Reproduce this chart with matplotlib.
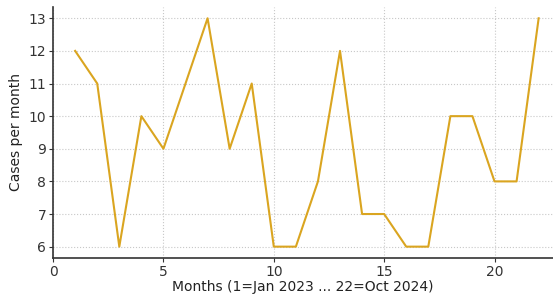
import matplotlib
matplotlib.use('Agg')
import matplotlib.pyplot as plt

# Monthly case counts
months = list(range(1, 23))
cases = [12, 11, 6, 10, 9, 11, 13, 9, 11, 6, 6, 8, 12, 7, 7, 6, 6, 10, 10, 8, 8, 13]

fig = plt.figure(figsize=(5.53, 2.98), dpi=100)
ax = fig.add_axes([0.096, 0.134, 0.904, 0.843])

ax.plot(months, cases, color='#DAA520', linewidth=1.5)
ax.set_xlim(0, 22.65)
ax.set_xticks([0, 5, 10, 15, 20])
ax.set_yticks(range(6, 14))
ax.grid(True, linestyle=':', color='#c8c8c8', linewidth=0.8)
for s in ['top', 'right']:
    ax.spines[s].set_visible(False)
for s in ['left', 'bottom']:
    ax.spines[s].set_color('#333333')
    ax.spines[s].set_linewidth(1.2)
ax.tick_params(labelsize=10, colors='#333333', length=3, pad=2)
ax.set_xlabel('Months (1=Jan 2023 ... 22=Oct 2024)', fontsize=10, color='#222222', labelpad=1)
ax.set_ylabel('Cases per month', fontsize=10, color='#222222', labelpad=4)

fig.savefig('out.png', dpi=100)
